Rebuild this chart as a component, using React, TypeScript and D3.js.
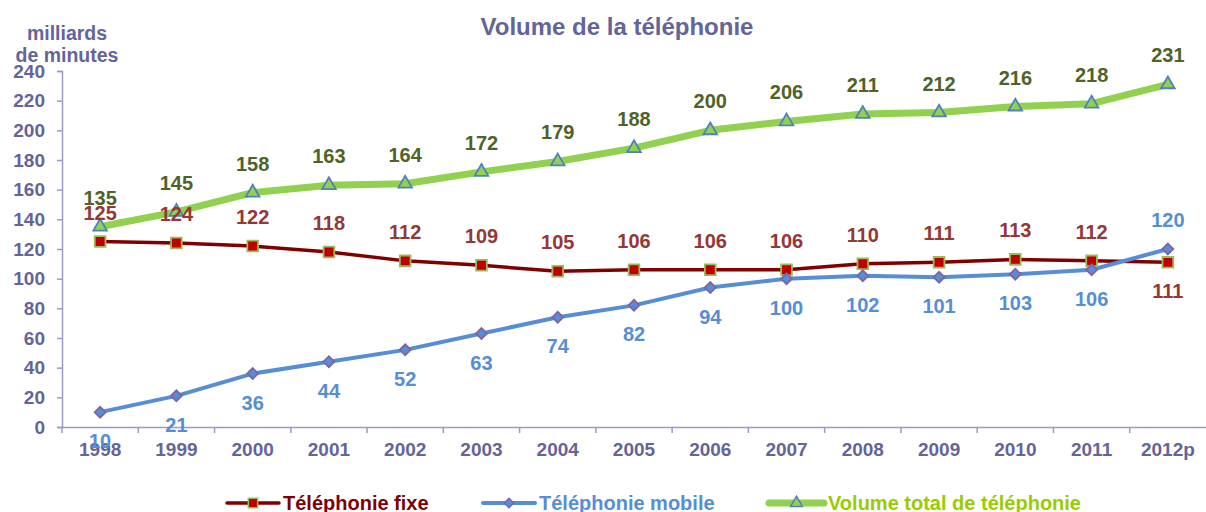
import * as d3 from "d3";
import * as React from "react";

// volumes annuels, milliards de minutes
const years = ["1998", "1999", "2000", "2001", "2002", "2003", "2004", "2005", "2006", "2007", "2008", "2009", "2010", "2011", "2012p"];
const fixe = [125, 124, 122, 118, 112, 109, 105, 106, 106, 106, 110, 111, 113, 112, 111];
const mobile = [10, 21, 36, 44, 52, 63, 74, 82, 94, 100, 102, 101, 103, 106, 120];
const total = [135, 145, 158, 163, 164, 172, 179, 188, 200, 206, 211, 212, 216, 218, 231];
const yTicks = [0, 20, 40, 60, 80, 100, 120, 140, 160, 180, 200, 220, 240];

const width = 1206;
const height = 512;
const font = "'Liberation Sans', Arial, sans-serif";
const axisColor = "#9a9acb";
const tickColor = "#64649a";

export default function App() {
  const ref = React.useRef<SVGSVGElement>(null);

  React.useEffect(() => {
    const svg = d3.select(ref.current);
    svg.selectAll("*").remove();

    const x = d3.scaleBand().domain(years).range([62, 1206]);
    const cx = (d: string) => (x(d) as number) + x.bandwidth() / 2;
    const y = d3.scaleLinear().domain([0, 240]).range([427, 71]);

    // axes
    const yAxis = svg.append("g").attr("transform", "translate(62,0)")
      .call(d3.axisLeft(y).tickValues(yTicks).tickSize(5).tickSizeOuter(5).tickPadding(12));
    yAxis.selectAll("path,line").attr("stroke", axisColor).attr("stroke-width", 1.5);
    yAxis.selectAll("text").attr("fill", tickColor).attr("font-size", 19).attr("font-weight", "bold").attr("font-family", font);

    const xAxis = svg.append("g").attr("transform", "translate(0,427)")
      .call(d3.axisBottom(x).tickSize(0).tickPadding(16));
    xAxis.selectAll("path").attr("stroke", axisColor).attr("stroke-width", 1.5);
    xAxis.selectAll("text").attr("fill", tickColor).attr("font-size", 19).attr("font-weight", "bold").attr("font-family", font);
    // graduations entre les catégories
    svg.append("g").selectAll("line")
      .data(years)
      .join("line")
      .attr("x1", d => x(d) as number)
      .attr("x2", d => x(d) as number)
      .attr("y1", 427).attr("y2", 433)
      .attr("stroke", axisColor).attr("stroke-width", 1.5);

    // titres
    svg.append("text").attr("x", 617).attr("y", 35).attr("text-anchor", "middle")
      .attr("font-family", font).attr("font-weight", "bold").attr("font-size", 24).attr("fill", tickColor)
      .text("Volume de la téléphonie");
    svg.append("text").attr("x", 67).attr("y", 40).attr("text-anchor", "middle")
      .attr("font-family", font).attr("font-weight", "bold").attr("font-size", 19.5).attr("fill", tickColor)
      .text("milliards");
    svg.append("text").attr("x", 67).attr("y", 62).attr("text-anchor", "middle")
      .attr("font-family", font).attr("font-weight", "bold").attr("font-size", 19.5).attr("fill", tickColor)
      .text("de minutes");

    const line = d3.line<number>().x((d, i) => cx(years[i])).y(d => y(d));

    const series = [
      { name: "total", values: total, stroke: "#92d050", sw: 7, marker: d3.symbolTriangle, rot: 0, msize: 80, mfill: "#92d050", mstroke: "#4f81bd", label: "#4f6228" },
      { name: "fixe", values: fixe, stroke: "#800000", sw: 3.5, marker: d3.symbolSquare, rot: 0, msize: 115, mfill: "#c00000", mstroke: "#9bbb59", label: "#953735" },
      { name: "mobile", values: mobile, stroke: "#558ed5", sw: 4, marker: d3.symbolSquare, rot: 45, msize: 60, mfill: "#558ed5", mstroke: "#8064a2", label: "#558ed5" },
    ];

    series.forEach(s => {
      svg.append("path").datum(s.values).attr("d", line)
        .attr("fill", "none").attr("stroke", s.stroke).attr("stroke-width", s.sw).attr("stroke-linejoin", "round");
    });
    series.forEach(s => {
      svg.append("g").selectAll("path").data(s.values).join("path")
        .attr("transform", (d, i) => `translate(${cx(years[i])},${y(d)}) rotate(${s.rot})`)
        .attr("d", d3.symbol(s.marker, s.msize))
        .attr("fill", s.mfill).attr("stroke", s.mstroke).attr("stroke-width", 1.8);
    });

    // étiquettes de valeurs
    series.forEach(s => {
      const last = s.values.length - 1;
      svg.append("g").selectAll("text").data(s.values).join("text")
        .attr("x", (d, i) => cx(years[i]))
        .attr("y", (d, i) => {
          let below = s.name === "mobile";
          if (i === last && s.name !== "total") below = !below;
          return y(d) + (below ? 29 : -29) + 7;
        })
        .attr("text-anchor", "middle")
        .attr("font-family", font).attr("font-weight", "bold").attr("font-size", 20)
        .attr("fill", s.label)
        .text(d => d);
    });

    // légende
    const legend = [
      { x: 227, w: 52, text: "Téléphonie fixe", color: "#800000", s: series[1] },
      { x: 483, w: 52, text: "Téléphonie mobile", color: "#558ed5", s: series[2] },
      { x: 769, w: 55, text: "Volume total de téléphonie", color: "#99cc00", s: series[0] },
    ];
    const lg = svg.append("g").selectAll("g").data(legend).join("g")
      .attr("transform", d => `translate(${d.x},503)`);
    lg.append("line").attr("x1", 0).attr("x2", d => d.w).attr("y1", 0).attr("y2", 0)
      .attr("stroke", d => d.s.stroke).attr("stroke-width", d => d.s.sw).attr("stroke-linecap", "round");
    lg.append("path").attr("transform", d => `translate(${d.w / 2},0) rotate(${d.s.rot})`)
      .attr("d", d => d3.symbol(d.s.marker, d.s.msize * 0.75)())
      .attr("fill", d => d.s.mfill).attr("stroke", d => d.s.mstroke).attr("stroke-width", 1.5);
    lg.append("text").attr("x", d => d.w + 4).attr("y", 7)
      .attr("font-family", font).attr("font-weight", "bold").attr("font-size", 20)
      .attr("fill", d => d.color)
      .text(d => d.text);
  }, []);

  return (
    <svg ref={ref} width={width} height={height}
      style={{ position: "absolute", left: 0, top: 0, background: "#fff" }} />
  );
}
